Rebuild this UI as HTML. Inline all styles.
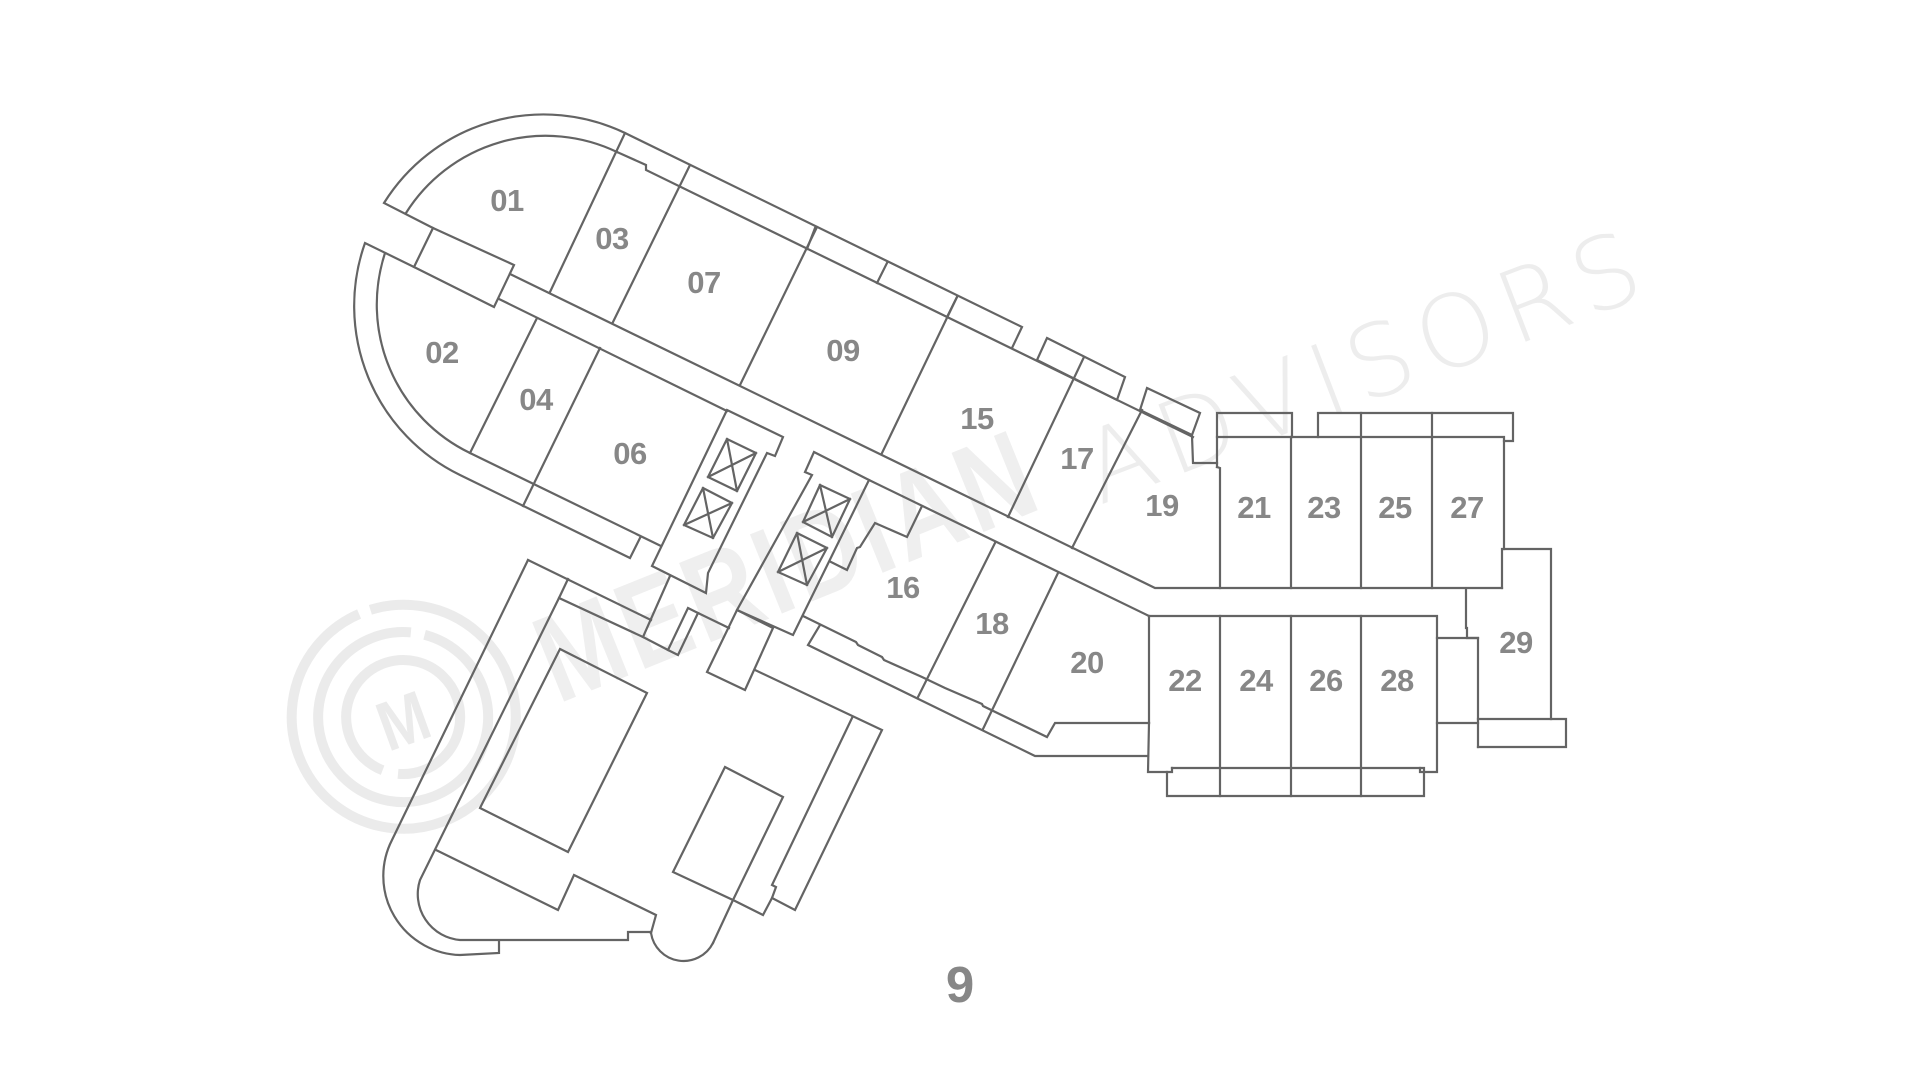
<!DOCTYPE html>
<html>
<head>
<meta charset="utf-8">
<style>
html,body{margin:0;padding:0;background:#fff;}
svg{display:block;}
.l{fill:none;stroke:#646464;stroke-width:2.2;stroke-linejoin:miter;stroke-linecap:square;}
.t{font-family:"Liberation Sans",Arial,sans-serif;font-weight:bold;font-size:31px;fill:#878787;text-anchor:middle;letter-spacing:-0.5px;}
.wm{fill:none;stroke:#ebebeb;stroke-width:10;}
</style>
</head>
<body>
<svg width="1920" height="1080" viewBox="0 0 1920 1080" xmlns="http://www.w3.org/2000/svg">
<rect width="1920" height="1080" fill="#fff"/>

<!-- watermark -->
<g>
  <path class="wm" d="M370.4,609.8 A112 112 0 1 1 359.1,614.0"/>
  <path class="wm" d="M424.6,634.8 A85 85 0 1 1 410.9,632.4"/>
  <path class="wm" d="M382.6,770.2 A57 57 0 1 1 398.0,773.8"/>
  <text x="0" y="0" transform="translate(403,720) rotate(-20) scale(0.85,1) translate(0,25)" font-family="Liberation Sans, sans-serif" font-weight="bold" font-size="70" fill="#ebebeb" text-anchor="middle">M</text>
  <text x="0" y="0" transform="translate(558,704) rotate(-22) scale(0.8,1)" font-family="Liberation Sans, sans-serif" font-weight="bold" font-size="124" letter-spacing="6" fill="#efefef">MERIDIAN</text>
  <text x="1100" y="505" transform="rotate(-21 1100 505)" font-family="DejaVu Sans, Liberation Sans, sans-serif" font-weight="200" font-size="100" letter-spacing="10" fill="#ededed">ADVISORS</text>
</g>

<!-- plan lines -->
<g class="l">
  <!-- 01 piece -->
  <path d="M433,228 L384,203 A188 188 0 0 1 625,133 L550,292"/>
  <path d="M406,213 A165 165 0 0 1 617,152"/>
  <!-- upper balcony -->
  <path d="M625,133 L1022,327 L1012,348"/>
  <path d="M617,152 L646,165 L646,170 L1193,437"/>
  <path d="M815,228 L807,249 M887,263 L877,283 M957,297 L947,317"/>
  <!-- upper dividers -->
  <path d="M690,165 L613,322"/>
  <path d="M817,227 L740,385"/>
  <path d="M957,297 L882,453"/>
  <path d="M1084,357 L1008,517"/>
  <path d="M1142,410 L1072,548"/>
  <!-- balcony boxes -->
  <path d="M1047,338 L1125,377 L1117,400 L1037,360 Z"/>
  <path d="M1147,388 L1200,413 L1192,435 L1140,410 Z"/>
  <!-- 19 notch -->
  <path d="M1192,436 L1193,463 L1217,463"/>
  <!-- corridor -->
  <path d="M510,274 L1155,588 L1502,588"/>
  <path d="M499,299 L727,411"/>
  <path d="M869,480 L1149,616"/>
  <!-- stair rect -->
  <path d="M433,228 L514,265 L494,307 L414,267 Z"/>
  <!-- 02 piece -->
  <path d="M414,267 L365,243 A188 188 0 0 0 460,475 L630,558 L640,538"/>
  <path d="M385,253 A165 165 0 0 0 470,453 L661,546"/>
  <path d="M537,318 L470,453"/>
  <path d="M600,348 L523,506"/>
  <!-- left core -->
  <path d="M727,410 L783,437 L775,456 L767,453 L708,573 L706,593 L652,566 Z"/>
  <path d="M727,439 L756,453 L737,491 L708,477 Z M727,439 L737,491 M756,453 L708,477"/>
  <path d="M703,488 L732,503 L713,538 L684,525 Z M703,488 L713,538 M732,503 L684,525"/>
  <!-- right core -->
  <path d="M814,452 L869,480 L793,635 L737,610 L812,475 L805,472 Z"/>
  <path d="M820,485 L850,499 L832,537 L803,522 Z M820,485 L832,537 M850,499 L803,522"/>
  <path d="M797,533 L827,548 L807,585 L778,572 Z M797,533 L807,585 M827,548 L778,572"/>
  <!-- 16 wall -->
  <path d="M831,562 L847,570 L857,548 L860,547 L875,523 L907,537 L922,506"/>
  <!-- lower balcony lines -->
  <path d="M803,616 L856,642 L858,645 L882,657 L884,660 L922,677 L945,688 L982,704 L983,706 L1047,737 L1055,723 L1149,723"/>
  <path d="M820,625 L808,645 L1035,756 L1148,756"/>
  <path d="M995,543 L918,697"/>
  <path d="M1058,573 L983,729"/>
  <path d="M1149,616 L1149,723"/>
  <!-- right block upper -->
  <path d="M1217,467 L1217,413 L1292,413 L1292,437"/>
  <path d="M1318,437 L1318,413 L1513,413 L1513,441 L1504,441"/>
  <path d="M1217,437 L1504,437 L1504,549"/>
  <path d="M1217,467 L1220,468 L1220,588"/>
  <path d="M1291,437 L1291,588 M1361,413 L1361,588 M1432,413 L1432,588"/>
  <!-- 29 -->
  <path d="M1502,588 L1502,549 L1551,549 L1551,719"/>
  <path d="M1466,589 L1466,628 L1467,628 L1467,638 L1478,638"/>
  <path d="M1437,638 L1478,638 L1478,747"/>
  <path d="M1437,723 L1478,723"/>
  <path d="M1478,719 L1566,719 L1566,747 L1478,747"/>
  <!-- right block lower -->
  <path d="M1149,616 L1437,616 L1437,772 L1420,772 L1420,768"/>
  <path d="M1149,723 L1148,772 L1172,772 L1172,768"/>
  <path d="M1172,768 L1424,768 L1424,796 L1167,796 L1167,772"/>
  <path d="M1220,616 L1220,796 M1291,616 L1291,796 M1361,616 L1361,796"/>
  <!-- bottom building -->
  <path d="M528,560 L651,620"/>
  <path d="M528,560 L392,840 A79 79 0 0 0 460,955 L499,953 L499,941"/>
  <path d="M568,579 L559,598"/>
  <path d="M643,637 L559,598 L420,880 A46 46 0 0 0 460,940 L628,940 L628,932 L651,932"/>
  <path d="M436,850 L558,910 L574,875 L656,915 L651,933"/>
  <path d="M670,576 L643,637 L668,650"/>
  <path d="M668,650 L678,655 L698,613 L688,608 Z"/>
  <path d="M698,613 L729,628"/>
  <path d="M737,610 L773,628 L745,690 L707,672 Z"/>
  <path d="M755,670 L882,730 L795,910 L772,898 L776,887 L772,885 L852,718"/>
  <path d="M772,898 L763,915 L733,900"/>
  <path d="M725,767 L783,797 L733,900 L673,872 Z"/>
  <path d="M733,900 L713,943"/>
  <path d="M713,943 A33 33 0 0 1 651,933"/>
  <path d="M560,649 L647,693 L568,852 L480,808 Z"/>
</g>

<!-- labels -->
<g class="t">
  <text x="507" y="211">01</text>
  <text x="612" y="249">03</text>
  <text x="704" y="293">07</text>
  <text x="843" y="361">09</text>
  <text x="977" y="429">15</text>
  <text x="1077" y="469">17</text>
  <text x="1162" y="516">19</text>
  <text x="1254" y="518">21</text>
  <text x="1324" y="518">23</text>
  <text x="1395" y="518">25</text>
  <text x="1467" y="518">27</text>
  <text x="442" y="363">02</text>
  <text x="536" y="410">04</text>
  <text x="630" y="464">06</text>
  <text x="903" y="598">16</text>
  <text x="992" y="634">18</text>
  <text x="1087" y="673">20</text>
  <text x="1185" y="691">22</text>
  <text x="1256" y="691">24</text>
  <text x="1326" y="691">26</text>
  <text x="1397" y="691">28</text>
  <text x="1516" y="653">29</text>
</g>
<text x="960" y="1002" font-family="Liberation Sans, sans-serif" font-weight="bold" font-size="51" fill="#878787" text-anchor="middle">9</text>
</svg>
</body>
</html>
